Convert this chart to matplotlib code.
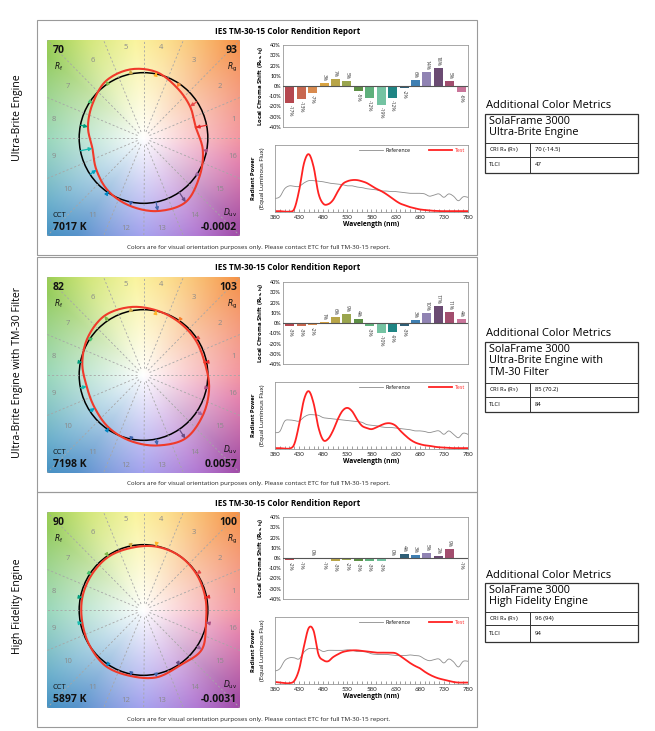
import numpy as np
import matplotlib
matplotlib.use("Agg")
import matplotlib.pyplot as plt
from matplotlib.patches import Rectangle, Circle

W, H = 655, 731
plt.rcParams['font.family'] = ['Open Sans', 'DejaVu Sans']
plt.rcParams['mathtext.fontset'] = 'dejavusans'

# ---------------- data ----------------
engines = ['Ultra-Brite Engine', 'Ultra-Brite Engine with TM-30 Filter', 'High Fidelity Engine']
table_titles = ['SolaFrame 3000\nUltra-Brite Engine',
                'SolaFrame 3000\nUltra-Brite Engine with\nTM-30 Filter',
                'SolaFrame 3000\nHigh Fidelity Engine']
cri_values = ['70 (-14.5)', '85 (70.2)', '96 (94)']
tlci_values = ['47', '84', '94']
rf_values = ['70', '82', '90']
rg_values = ['93', '103', '100']
cct_values = ['7017 K', '7198 K', '5897 K']
duv_values = ['-0.0002', '0.0057', '-0.0031']

hue_bins = list(range(1, 17))
rcs_ub = [-17, -13, -7, 3, 7, 5, -5, -12, -19, -12, -2, 6, 14, 18, 5, -6]
rcs_ubf = [-3, -3, -2, 1, 6, 9, 4, -3, -10, -9, -3, 3, 10, 17, 11, 4]
rcs_hf = [-2, -1, 0, -1, -3, -2, -3, -3, -3, 0, 4, 3, 5, 2, 9, -1]

wavelength = list(range(380, 790, 10))
ref_ub = [0.23, 0.26, 0.40, 0.45, 0.44, 0.44, 0.50, 0.54, 0.54, 0.53,
          0.52, 0.50, 0.49, 0.48, 0.47, 0.45, 0.45, 0.43, 0.42, 0.40,
          0.39, 0.38, 0.36, 0.36, 0.35, 0.35, 0.34, 0.33, 0.32, 0.32,
          0.32, 0.31, 0.27, 0.29, 0.31, 0.25, 0.31, 0.27, 0.19, 0.26, 0.25]
test_ub = [0.01, 0.01, 0.0, 0.0, 0.05, 0.37, 0.84, 1.0, 0.78, 0.32,
           0.14, 0.13, 0.20, 0.35, 0.48, 0.53, 0.55, 0.55, 0.53, 0.50,
           0.45, 0.40, 0.36, 0.31, 0.25, 0.19, 0.14, 0.11, 0.08, 0.06,
           0.04, 0.03, 0.02, 0.015, 0.01, 0.01, 0.01, 0.01, 0.01, 0.01, 0.01]
ref_ubf = [0.28, 0.30, 0.48, 0.50, 0.49, 0.48, 0.55, 0.59, 0.59, 0.58,
           0.54, 0.53, 0.52, 0.51, 0.50, 0.49, 0.48, 0.47, 0.46, 0.42,
           0.41, 0.40, 0.38, 0.37, 0.37, 0.36, 0.35, 0.34, 0.33, 0.31,
           0.31, 0.30, 0.28, 0.30, 0.31, 0.25, 0.31, 0.25, 0.19, 0.27, 0.25]
test_ubf = [0.01, 0.01, 0.0, 0.0, 0.08, 0.42, 0.85, 1.0, 0.79, 0.37,
            0.15, 0.17, 0.31, 0.51, 0.66, 0.71, 0.65, 0.51, 0.40, 0.36,
            0.34, 0.37, 0.41, 0.44, 0.44, 0.40, 0.31, 0.23, 0.16, 0.11,
            0.08, 0.06, 0.05, 0.035, 0.025, 0.02, 0.015, 0.01, 0.01, 0.01, 0.01]
ref_hf = [0.22, 0.26, 0.40, 0.45, 0.45, 0.43, 0.55, 0.61, 0.61, 0.60,
          0.56, 0.58, 0.58, 0.58, 0.58, 0.59, 0.58, 0.56, 0.56, 0.55,
          0.52, 0.51, 0.51, 0.51, 0.50, 0.49, 0.49, 0.49, 0.50, 0.49,
          0.48, 0.43, 0.40, 0.42, 0.43, 0.36, 0.43, 0.38, 0.29, 0.39, 0.39]
test_hf = [0.03, 0.02, 0.01, 0.01, 0.05, 0.25, 0.65, 0.97, 0.92, 0.51,
           0.41, 0.39, 0.46, 0.51, 0.55, 0.57, 0.58, 0.58, 0.57, 0.56,
           0.55, 0.54, 0.54, 0.54, 0.54, 0.53, 0.48, 0.42, 0.36, 0.31,
           0.27, 0.21, 0.16, 0.12, 0.09, 0.07, 0.05, 0.03, 0.02, 0.02, 0.02]

rcs_all = [rcs_ub, rcs_ubf, rcs_hf]
ref_all = [ref_ub, ref_ubf, ref_hf]
test_all = [test_ub, test_ubf, test_hf]

# TM-30 hue bin colours (arrows) and the muted bar colours of the report
bin_colors = ['#e62828', '#e74b4b', '#fb812e', '#ffb529', '#cba946', '#7eb94c', '#41c06d', '#009c7c',
              '#16bcb0', '#00a4bf', '#0085c3', '#3b62aa', '#4568ae', '#6a4e85', '#9d69a1', '#a74f81']
bar_colors = ['#b5474f', '#c8674f', '#d98b4f', '#d9a441', '#b8a548', '#9aa54e', '#5d8f45', '#5fb07c',
              '#74c3a2', '#1f8584', '#2f5f77', '#3f7fb2', '#9083b3', '#6b4b73', '#a24d6e', '#c9759a']

panel_tops = [20, 257, 492]
label_centers = [118, 372, 606]
table_boxes = [(105, 114, 143, 157, 173), (333, 342, 383, 397, 412), (575, 583, 612, 625, 642)]


def px_axes(fig, x0, y0, x1, y1):
    return fig.add_axes([x0 / W, 1 - y1 / H, (x1 - x0) / W, (y1 - y0) / H])


def catmull_rom(px, py, closed=False, n=12):
    P = np.column_stack([np.asarray(px, float), np.asarray(py, float)])
    if closed:
        P = np.vstack([P[-1], P, P[0], P[1]])
    else:
        P = np.vstack([P[0], P, P[-1]])
    t = np.linspace(0, 1, n, endpoint=False)[:, None]
    out = []
    for i in range(1, len(P) - 2):
        p0, p1, p2, p3 = P[i - 1], P[i], P[i + 1], P[i + 2]
        out.append(0.5 * (2 * p1 + (-p0 + p2) * t + (2 * p0 - 5 * p1 + 4 * p2 - p3) * t ** 2
                          + (-p0 + 3 * p1 - 3 * p2 + p3) * t ** 3))
    out.append(P[-2][None, :])
    out = np.vstack(out)
    return out[:, 0], out[:, 1]


# background hue wheel of the colour vector graphic
g = np.linspace(-1.5, 1.5, 300)
X, Y = np.meshgrid(g, g)
ang = np.degrees(np.arctan2(Y, X)) % 360
rad = np.hypot(X, Y)
anchor_deg = [0, 45, 75, 95, 120, 140, 180, 215, 235, 270, 300, 318, 345, 360]
anchor_rgb = np.array([(238, 110, 125), (245, 145, 70), (250, 210, 100), (248, 240, 120), (200, 225, 95),
                       (140, 200, 80), (115, 200, 160), (80, 160, 195), (60, 130, 195), (130, 125, 232),
                       (160, 90, 200), (160, 70, 160), (215, 85, 145), (238, 110, 125)]) / 255
rgb = np.stack([np.interp(ang, anchor_deg, anchor_rgb[:, i]) for i in range(3)], -1)
s = np.clip(rad / 2.12, 0, 1) ** 0.95
bg = 1 - s[..., None] * (1 - rgb)


def vector_graphic(ax, rcs, rf, rg, cct, duv):
    ax.imshow(bg, extent=[-1.5, 1.5, -1.5, 1.5], origin='lower', interpolation='bilinear', aspect='auto')
    for k in range(16):
        a = np.deg2rad(k * 22.5)
        ax.plot([0.1 * np.cos(a), 2.3 * np.cos(a)], [0.1 * np.sin(a), 2.3 * np.sin(a)],
                color='#a6a6a6', lw=0.6, ls=(0, (2.5, 2.5)))
    theta = np.deg2rad((np.arange(16) + 0.5) * 22.5)
    for k in range(16):
        ax.text(1.42 * np.cos(theta[k]), 1.42 * np.sin(theta[k]), str(hue_bins[k]), color='#8a8a8a',
                fontsize=5.5, ha='center', va='center')
    ax.add_patch(Circle((0, 0), 1, fill=False, ec='black', lw=1.1))
    r = 1 + np.array(rcs) / 100
    cx, cy = catmull_rom(r * np.cos(theta), r * np.sin(theta), closed=True)
    ax.plot(cx, cy, color='#f03a2a', lw=1.5)
    for k in range(16):
        if rcs[k] == 0:
            continue
        ax.annotate('', xy=(r[k] * np.cos(theta[k]), r[k] * np.sin(theta[k])),
                    xytext=(np.cos(theta[k]), np.sin(theta[k])),
                    arrowprops=dict(arrowstyle='-|>', color=bin_colors[k], lw=0.9,
                                    mutation_scale=5, shrinkA=0, shrinkB=0))
    ax.set_xlim(-1.5, 1.5)
    ax.set_ylim(-1.5, 1.5)
    ax.set_xticks([])
    ax.set_yticks([])
    for sp in ax.spines.values():
        sp.set_visible(False)
    kw = dict(transform=ax.transAxes, color='#111111')
    ax.text(0.03, 0.975, rf, fontsize=7.5, fontweight='bold', ha='left', va='top', **kw)
    ax.text(0.035, 0.895, r'$R_\mathrm{f}$', fontsize=5.5, ha='left', va='top', **kw)
    ax.text(0.985, 0.975, rg, fontsize=7.5, fontweight='bold', ha='right', va='top', **kw)
    ax.text(0.985, 0.895, r'$R_\mathrm{g}$', fontsize=5.5, ha='right', va='top', **kw)
    ax.text(0.03, 0.085, 'CCT', fontsize=5.5, ha='left', va='bottom', **kw)
    ax.text(0.03, 0.015, cct, fontsize=7.5, fontweight='bold', ha='left', va='bottom', **kw)
    ax.text(0.985, 0.085, r'$D_\mathrm{uv}$', fontsize=5.5, ha='right', va='bottom', **kw)
    ax.text(0.985, 0.015, duv, fontsize=7.5, fontweight='bold', ha='right', va='bottom', **kw)


def chroma_bars(ax, rcs):
    x = np.arange(16)
    ax.bar(x, rcs, width=0.78, color=bar_colors, zorder=2)
    ax.axhline(0, color='#555555', lw=0.8, zorder=3)
    for k in range(16):
        v = rcs[k]
        if v >= 0:
            ax.text(x[k], v + 1.5, f'{v}%', rotation=-90, fontsize=3.6, ha='center', va='bottom', color='#333')
        else:
            ax.text(x[k], v - 1.5, f'{v}%', rotation=-90, fontsize=3.6, ha='center', va='top', color='#333')
    ax.set_xlim(-0.6, 15.6)
    ax.set_ylim(-40, 40)
    ax.set_yticks(range(-40, 41, 10))
    ax.set_yticklabels([f'{v}%' for v in range(-40, 41, 10)], fontsize=4, fontfamily='Lato')
    ax.set_xticks([])
    ax.tick_params(axis='y', length=0, pad=1.5)
    for sp in ax.spines.values():
        sp.set_color('#999999')
        sp.set_linewidth(0.6)
    ax.text(-0.115, 0.5, r'Local Chroma Shift ($\mathbf{R_{cs,hj}}$)', rotation=90, fontsize=4.3,
            fontweight='bold', ha='center', va='center', transform=ax.transAxes)


def spectrum(ax, ref, test):
    wx, wy = catmull_rom(wavelength, ref, n=4)
    ax.plot(wx, wy, color='#8c8c8c', lw=0.6, label='Reference')
    tx, ty = catmull_rom(wavelength, test, n=10)
    ax.plot(tx, np.maximum(ty, 0), color='#ff2222', lw=1.3, label='Test')
    ax.set_xlim(380, 780)
    ax.set_ylim(-0.005, 1.16)
    ax.set_xticks(range(380, 781, 50))
    ax.set_xticks(range(380, 781, 10), minor=True)
    ax.set_xticklabels([str(v) for v in range(380, 781, 50)], fontsize=4.5, fontfamily='Lato')
    ax.set_yticks([])
    ax.tick_params(axis='x', which='both', direction='in', length=2, width=0.4, pad=2, colors='#555555',
                   labelcolor='#222222')
    for sp in ax.spines.values():
        sp.set_color('#999999')
        sp.set_linewidth(0.6)
    ax.set_xlabel('Wavelength (nm)', fontsize=4.8, fontweight='bold', labelpad=1)
    ax.text(-0.112, 0.5, 'Radiant Power', rotation=90, fontsize=4.3, fontweight='bold',
            ha='center', va='center', transform=ax.transAxes)
    ax.text(-0.066, 0.5, '(Equal Luminous Flux)', rotation=90, fontsize=4.3,
            ha='center', va='center', transform=ax.transAxes)
    leg = ax.legend(loc='upper right', ncol=2, fontsize=3.8, frameon=False, handlelength=4.5,
                    columnspacing=3.5, borderaxespad=0.2, handletextpad=0.4)
    leg.get_texts()[1].set_color('#ff2222')


fig = plt.figure(figsize=(W / 100, H / 100), dpi=100)
ov = fig.add_axes([0, 0, 1, 1])
ov.set_xlim(0, W)
ov.set_ylim(H, 0)
ov.axis('off')
ov.set_zorder(-1)

for i in range(3):
    T = panel_tops[i]
    ov.add_patch(Rectangle((37, T), 440, 235, fill=False, ec='#9a9a9a', lw=0.8))
    ov.text(288, T + 11, 'IES TM-30-15 Color Rendition Report', fontsize=5.9, fontweight='bold',
            ha='center', va='center')
    ov.text(259, T + 227, 'Colors are for visual orientation purposes only. Please contact ETC for full '
            'TM-30-15 report.', fontsize=4.5, ha='center', va='center', color='#222222')
    ov.text(18, label_centers[i], engines[i], rotation=90, fontsize=7.6, ha='center', va='center')

    vector_graphic(px_axes(fig, 47, T + 20, 240, T + 216), rcs_all[i], rf_values[i], rg_values[i],
                   cct_values[i], duv_values[i])
    chroma_bars(px_axes(fig, 283, T + 25, 468, T + 107), rcs_all[i])
    spectrum(px_axes(fig, 275, T + 125, 468, T + 192), ref_all[i], test_all[i])

    # additional colour metrics table
    ty, top, hb, r1, bot = table_boxes[i]
    ov.text(486, ty, 'Additional Color Metrics', fontsize=8.0, ha='left', va='center')
    ov.add_patch(Rectangle((485, top), 153, bot - top, fill=False, ec='#333333', lw=0.9))
    ov.plot([485, 638], [hb, hb], color='#333333', lw=0.7)
    ov.plot([485, 638], [r1, r1], color='#333333', lw=0.7)
    ov.plot([530, 530], [hb, bot], color='#333333', lw=0.7)
    ov.text(489, top + 2, table_titles[i], fontsize=7.8, ha='left', va='top', linespacing=1.05)
    ov.text(489, (hb + r1) / 2, r'CRI $\mathregular{R_a}$ ($\mathregular{R_9}$)', fontsize=4.2,
            ha='left', va='center')
    ov.text(535, (hb + r1) / 2, cri_values[i], fontsize=4.2, ha='left', va='center')
    ov.text(489, (r1 + bot) / 2, 'TLCI', fontsize=4.2, ha='left', va='center')
    ov.text(535, (r1 + bot) / 2, tlci_values[i], fontsize=4.2, ha='left', va='center')

fig.savefig('out.png', dpi=100)
